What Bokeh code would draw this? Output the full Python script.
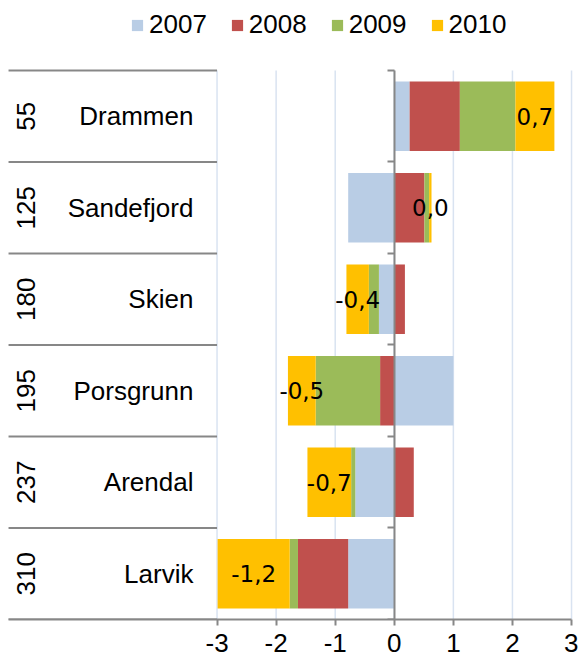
import math
from bokeh.plotting import figure
from bokeh.models import Range1d, FixedTicker
from bokeh.core.properties import value
from bokeh.embed import file_html
from bokeh.resources import INLINE

# ---- data ----
cities = ["Drammen", "Sandefjord", "Skien", "Porsgrunn", "Arendal", "Larvik"]
codes = ["55", "125", "180", "195", "237", "310"]
years = ["2007", "2008", "2009", "2010"]
v2007 = [0.26, -0.78, -0.26, 1.00, -0.66, -0.78]
v2008 = [0.85, 0.51, 0.18, -0.24, 0.33, -0.85]
v2009 = [0.94, 0.08, -0.17, -1.09, -0.07, -0.14]
v2010 = [0.66, 0.04, -0.38, -0.47, -0.74, -1.22]
x_ticks = [-3, -2, -1, 0, 1, 2, 3]
x_tick_labels = ["-3", "-2", "-1", "0", "1", "2", "3"]

colors = ["#B9CDE5", "#C0504D", "#9BBB59", "#FFC000"]
series = [v2007, v2008, v2009, v2010]
n = len(cities)
ypos = [n - i - 0.5 for i in range(n)]
bounds = list(range(n + 1))

X0, X1 = -6.665, 3.118
TABLE_X0 = -6.529
Y0, Y1 = 0.0, 6.765
GRAY = "#878787"
FONT = "Liberation Sans"

p = figure(width=578, height=663, x_range=Range1d(X0, X1), y_range=Range1d(Y0, Y1),
           output_backend="svg", toolbar_location=None, min_border=0,
           min_border_bottom=44,
           background_fill_color="white", border_fill_color="white")
p.outline_line_color = None
p.xgrid.visible = False
p.ygrid.visible = False

# vertical grid lines at the x ticks, limited to the category area
p.segment(x0=x_ticks, x1=x_ticks, y0=[bounds[0]] * len(x_ticks), y1=[bounds[-1]] * len(x_ticks),
          line_color="#d9e3f1", line_width=1.5, level="underlay")

# stacked bars (positives stacked right, negatives stacked left)
pos = [0.0] * n
neg = [0.0] * n
last_left, last_right = None, None
for year, vals, color in zip(years, series, colors):
    left, right = [], []
    for i, v in enumerate(vals):
        if v >= 0:
            left.append(pos[i]); right.append(pos[i] + v); pos[i] += v
        else:
            right.append(neg[i]); left.append(neg[i] + v); neg[i] += v
    p.hbar(y=ypos, left=left, right=right, height=0.76, fill_color=color,
           line_color=None, legend_label=year)
    last_left, last_right = left, right

# data labels (2010 values) centred in the 2010 segment
lab_x = [(l + r) / 2 for l, r in zip(last_left, last_right)]
lab_t = [f"{v:.1f}".replace(".", ",") for v in v2010]
p.text(x=lab_x, y=ypos, text=lab_t, text_align="center", text_baseline="middle",
       text_font=value("DejaVu Sans"), text_font_size="23px", text_color="black")

# left table: separators, codes, names
p.segment(x0=[TABLE_X0] * len(bounds), x1=[x_ticks[0]] * len(bounds), y0=bounds, y1=bounds,
          line_color=GRAY, line_width=2)
p.text(x=[-6.241] * n, y=ypos, text=codes, angle=math.pi / 2, text_align="center",
       text_baseline="middle", text_font=value(FONT), text_font_size="26px", text_color="black")
p.text(x=[-3.4] * n, y=ypos, text=cities, text_align="right",
       text_baseline="middle", text_font=value(FONT), text_font_size="26px", text_color="black")

# x axis (below)
xa = p.xaxis[0]
xa.ticker = FixedTicker(ticks=x_ticks)
xa.major_label_overrides = dict(zip(x_ticks, x_tick_labels))
xa.bounds = (TABLE_X0, x_ticks[-1])
xa.axis_line_color = GRAY
xa.axis_line_width = 2
xa.major_tick_line_color = GRAY
xa.major_tick_line_width = 2
xa.major_tick_out = 6
xa.major_tick_in = 0
xa.minor_tick_out = 0
xa.minor_tick_in = 0
xa.major_label_standoff = 8
xa.major_label_text_font = FONT
xa.major_label_text_font_size = "26px"
xa.major_label_text_color = "black"

# y axis at x=0
ya = p.yaxis[0]
ya.fixed_location = 0
ya.ticker = FixedTicker(ticks=bounds)
ya.major_label_overrides = {b: "" for b in bounds}
ya.bounds = (bounds[0], bounds[-1])
ya.axis_line_color = GRAY
ya.axis_line_width = 2
ya.major_tick_line_color = GRAY
ya.major_tick_line_width = 2
ya.major_tick_out = 7
ya.major_tick_in = 0
ya.minor_tick_out = 0
ya.minor_tick_in = 0
ya.major_label_text_font_size = "1px"

# legend
leg = p.legend[0]
leg.location = (130, 579)
leg.orientation = "horizontal"
leg.glyph_width = 14
leg.glyph_height = 14
leg.label_standoff = 5
leg.spacing = 23
leg.padding = 0
leg.margin = 0
leg.label_text_font = FONT
leg.label_text_font_size = "26px"
leg.label_text_color = "black"
leg.border_line_color = None
leg.background_fill_alpha = 0

open("out.html", "w").write(file_html(p, INLINE))
